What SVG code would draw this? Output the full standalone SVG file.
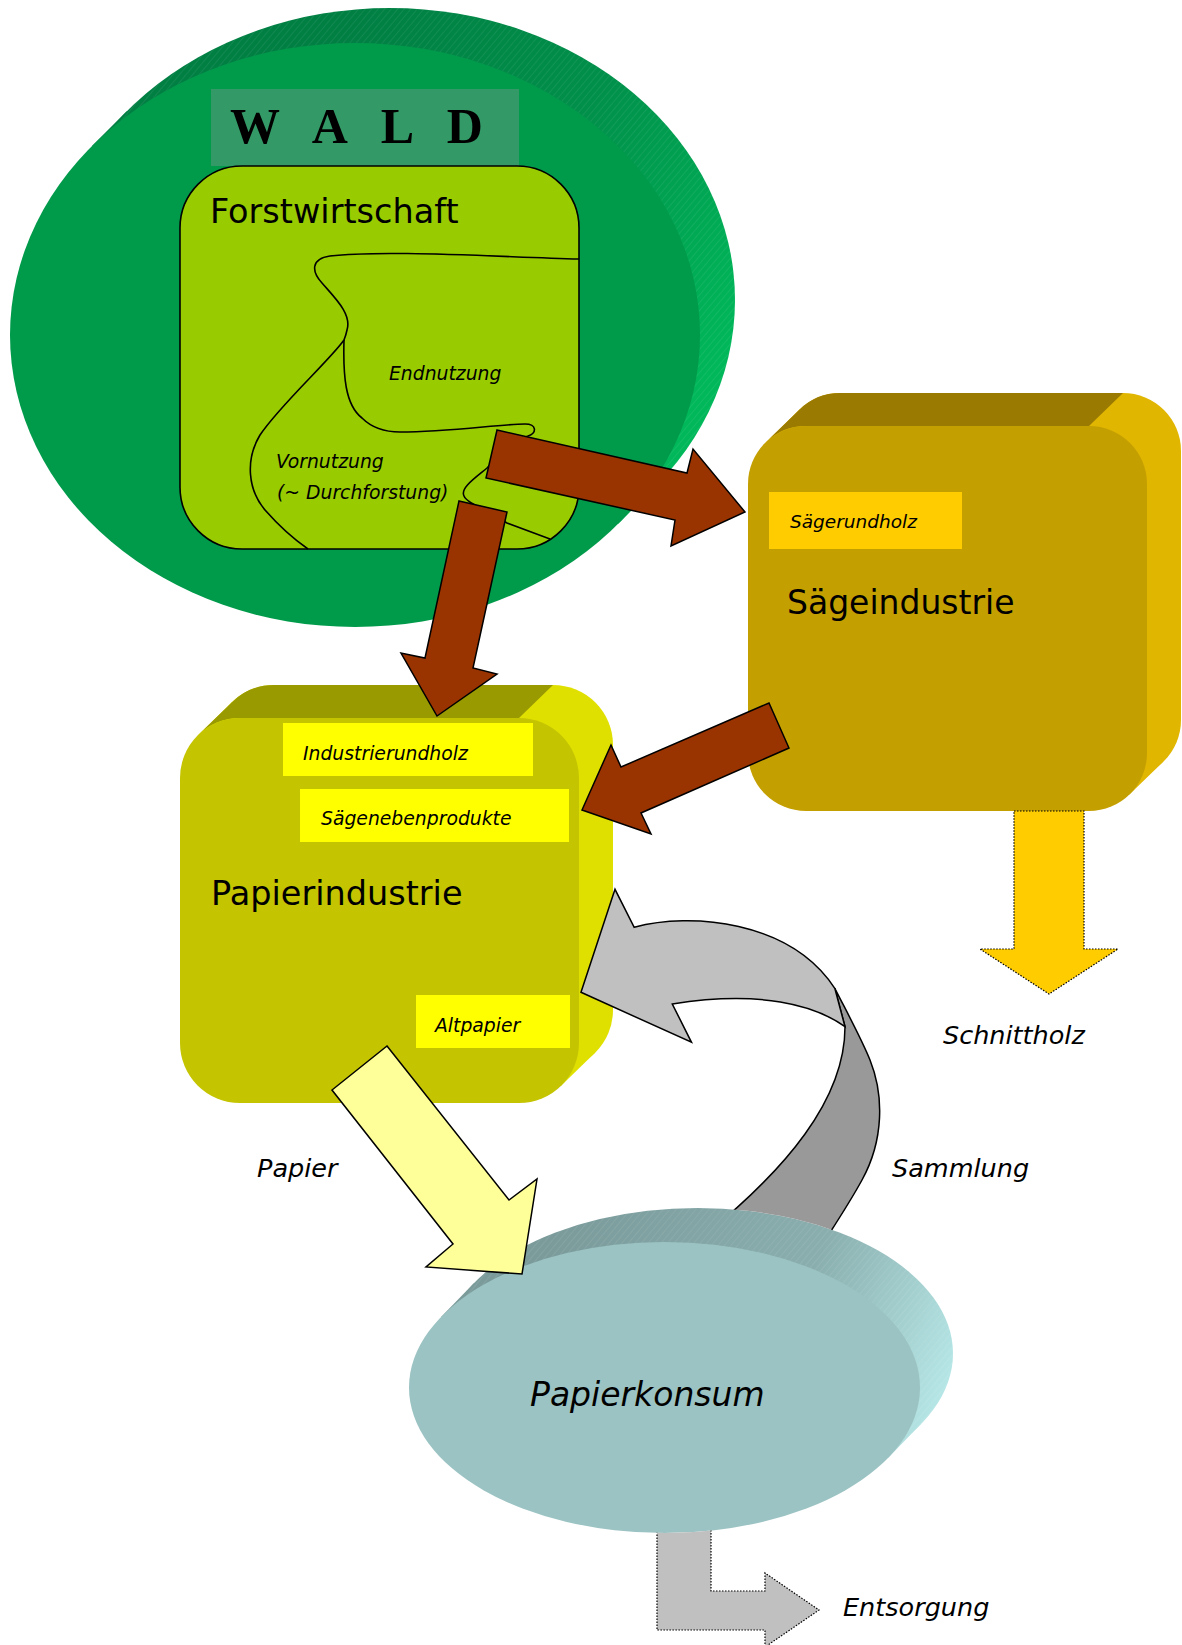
<svg xmlns="http://www.w3.org/2000/svg" width="1182" height="1645" viewBox="0 0 1182 1645">
<defs>
  <linearGradient id="gGreen" gradientUnits="userSpaceOnUse" x1="330" y1="60" x2="740" y2="330">
    <stop offset="0" stop-color="#007F43"/>
    <stop offset="0.5" stop-color="#00904A"/>
    <stop offset="1" stop-color="#00B75A"/>
  </linearGradient>
  <linearGradient id="gTeal" gradientUnits="userSpaceOnUse" x1="560" y1="1220" x2="950" y2="1380">
    <stop offset="0" stop-color="#7B9B9B"/>
    <stop offset="0.6" stop-color="#8AAEAE"/>
    <stop offset="1" stop-color="#B6E6E6"/>
  </linearGradient>
  <pattern id="hatch" width="5" height="5" patternUnits="userSpaceOnUse" patternTransform="rotate(40)">
    <line x1="0" y1="0" x2="0" y2="5" stroke="#ffffff" stroke-opacity="0.18" stroke-width="0.8"/>
  </pattern>
  <mask id="behindKonsum" maskUnits="userSpaceOnUse" x="0" y="0" width="1182" height="1645">
    <rect x="0" y="0" width="1182" height="1645" fill="#fff"/>
    <ellipse cx="697.5" cy="1353.5" rx="255.5" ry="145.5" fill="#000"/>
    <polygon points="888.2,1457.8 921.2,1423.8 473.8,1283.2 440.8,1317.2" fill="#000"/>
    <ellipse cx="664.5" cy="1387.5" rx="255.5" ry="145.5" fill="#000"/>
  </mask>
</defs>
<style>
  .big{font-family:"DejaVu Sans","Liberation Sans",sans-serif;fill:#000}
  .lbl{font-family:"DejaVu Sans","Liberation Sans",sans-serif;font-style:italic;fill:#000}
  .brown{fill:#993300;stroke:#000;stroke-width:1.5;stroke-linejoin:miter}
  .outline{stroke:#000;stroke-width:1.5;stroke-linejoin:miter}
  .dotted{stroke:#000;stroke-width:1.2;stroke-dasharray:1.5 1.5}
  .curve{fill:none;stroke:#000;stroke-width:1.6}
  .tag{fill:#FFFF00}
</style>

<rect x="0" y="0" width="1182" height="1645" fill="#ffffff"/>

<!-- WALD -->
<g id="wald">
  <ellipse cx="390" cy="300" rx="345" ry="292" fill="url(#gGreen)"/>
  <polygon points="618.3,523.7 653.3,488.7 126.7,111.3 91.7,146.3" fill="url(#gGreen)"/>
  <ellipse cx="390" cy="300" rx="345" ry="292" fill="url(#hatch)"/>
  <ellipse cx="355" cy="335" rx="345" ry="292" fill="#009A4B"/>
  <rect x="211" y="89" width="308" height="77" fill="#339966"/>
  <text x="230" y="143" font-family="'Liberation Serif',serif" font-weight="bold" font-size="50" letter-spacing="11.5" fill="#000">W A L D</text>
</g>

<!-- Forstwirtschaft -->
<g id="forstwirtschaft">
  <rect x="180" y="166" width="399" height="383" rx="62" ry="62" fill="#99CC00" stroke="#000" stroke-width="1.6"/>
  <path class="curve" d="M 579 259 C 480 256, 380 250, 330 256 C 310 259, 312 272, 322 283 C 335 298, 352 314, 347 330 C 346 335, 344 340, 344 340 C 330 360, 280 405, 260 435 C 245 460, 248 490, 265 510 C 280 527, 295 540, 308 549"/>
  <path class="curve" d="M 344 340 C 343 375, 345 405, 362 418 C 372 428, 385 432, 400 432 C 450 432, 500 424, 525 424 C 537 424, 537 433, 528 436 C 515 440, 500 455, 487 468 C 475 478, 460 488, 464 496 C 467 503, 482 508, 507 523 L 550 539"/>
  <text class="big" x="210" y="223" font-size="33.5">Forstwirtschaft</text>
  <text class="lbl" x="389" y="380" font-size="18.8">Endnutzung</text>
  <text class="lbl" x="276" y="468" font-size="18.8">Vornutzung</text>
  <text class="lbl" x="277" y="499" font-size="18.8">(~ Durchforstung)</text>
</g>

<!-- Saegeindustrie -->
<g id="saegeindustrie">
  <rect x="782" y="393" width="399" height="385" rx="58" ry="58" fill="#E0B600"/>
  <polygon points="765.6,442.4 799.6,409.4 1163.4,761.6 1129.4,794.6" fill="#E0B600"/>
  <path d="M 765.6 442.4 A 58 58 0 0 1 806 426 L 1089 426 L 1123 393 L 840 393 A 58 58 0 0 0 799.6 409.4 Z" fill="#9A7A00"/>
  <rect x="748" y="426" width="399" height="385" rx="58" ry="58" fill="#C49F00"/>
  <rect x="769" y="492" width="193" height="57" fill="#FFCC00"/>
  <text class="lbl" x="790" y="528" font-size="18.5">Sägerundholz</text>
  <text class="big" x="787" y="614" font-size="33">Sägeindustrie</text>
</g>

<!-- Papierindustrie -->
<g id="papierindustrie">
  <rect x="214" y="685" width="399" height="385" rx="60" ry="60" fill="#E0E000"/>
  <polygon points="198.2,735 232.2,702 594.8,1053 560.8,1086" fill="#E0E000"/>
  <path d="M 198.2 735 A 60 60 0 0 1 240 718 L 519 718 L 553 685 L 274 685 A 60 60 0 0 0 232.2 702 Z" fill="#999900"/>
  <rect x="180" y="718" width="399" height="385" rx="60" ry="60" fill="#C4C400"/>
  <rect class="tag" x="283" y="723" width="250" height="53"/>
  <text class="lbl" x="303" y="760" font-size="18.8">Industrierundholz</text>
  <rect class="tag" x="300" y="789" width="269" height="53"/>
  <text class="lbl" x="321" y="825" font-size="18.8">Sägenebenprodukte</text>
  <text class="big" x="211" y="905" font-size="33.5">Papierindustrie</text>
  <rect class="tag" x="416" y="995" width="154" height="53"/>
  <text class="lbl" x="435" y="1032" font-size="18.8">Altpapier</text>
</g>

<!-- Papierkonsum -->
<g id="papierkonsum">
  <ellipse cx="697.5" cy="1353.5" rx="255.5" ry="145.5" fill="url(#gTeal)"/>
  <polygon points="888.2,1457.8 921.2,1423.8 473.8,1283.2 440.8,1317.2" fill="url(#gTeal)"/>
  <ellipse cx="697.5" cy="1353.5" rx="255.5" ry="145.5" fill="url(#hatch)"/>
  <ellipse cx="664.5" cy="1387.5" rx="255.5" ry="145.5" fill="#9CC3C3"/>
  <text class="lbl" x="530" y="1406" font-size="33">Papierkonsum</text>
</g>

<!-- Connectors -->
<g id="connectors">
  <!-- Forst -> Saege -->
  <polygon class="brown" points="497,430 687,473 693,449 745,512 671,546 675,520 486,478"/>
  <!-- Forst -> Papier -->
  <polygon class="brown" points="459,501 507,512 473,668 497,674 437,716 401,653 425,658"/>
  <!-- Saege -> Papier -->
  <polygon class="brown" points="582,810 611,745 621,767 769,703 789,748 641,813 651,834"/>
  <!-- Schnittholz -->
  <polygon class="dotted" fill="#FFCC00" points="1014,811 1084,811 1084,949 1118,949 1049,994 980,949 1014,949"/>
  <text class="lbl" x="943" y="1044" font-size="25.5">Schnittholz</text>
  <!-- Sammlung (Altpapier return) -->
  <g mask="url(#behindKonsum)">
    <path class="outline" fill="#999999" d="M 834.8 988.3 C 850 1018, 862 1040, 870 1060 C 884 1095, 884 1140, 862 1180 C 850 1202, 838 1220, 822 1245 L 705 1235 C 785 1170, 845 1100, 845 1026.7 Z"/>
    <path class="outline" fill="#C0C0C0" d="M 581 992.3 L 615 889.3 L 634.2 927.3 C 690 912, 790 920, 834.8 988.3 L 845 1026.7 C 815 1005, 760 990, 672.3 1004 L 691.5 1042.3 Z"/>
    <!-- Entsorgung -->
    <path class="dotted" fill="#C0C0C0" d="M 657 1500 L 711 1500 L 711 1591 L 765 1591 L 765 1573 L 819 1610 L 765 1647 L 765 1630 L 657 1630 Z"/>
  </g>
  <text class="lbl" x="892" y="1177" font-size="25.5">Sammlung</text>
  <text class="lbl" x="843" y="1616" font-size="25.5">Entsorgung</text>
  <!-- Papier -->
  <polygon class="outline" fill="#FFFF99" points="387,1046 509,1200 537,1179 522,1274 426,1267 453,1244 332,1090"/>
  <text class="lbl" x="257" y="1177" font-size="25.5">Papier</text>
</g>
</svg>
